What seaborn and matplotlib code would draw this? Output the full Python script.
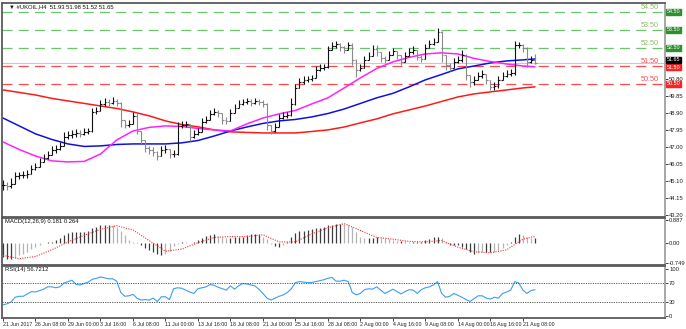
import matplotlib
matplotlib.use("Agg")
import matplotlib.pyplot as plt
import numpy as np
import pandas as pd
import seaborn as sns

# ---- price bars (H4, every 2nd bar) ----
bar_close = [44.89, 44.84, 44.95, 45.39, 45.45, 45.45, 45.50, 45.78, 45.89, 46.17,
             46.39, 46.56, 46.84, 46.89, 47.06, 47.56, 47.67, 47.73, 47.78, 47.73,
             47.84, 47.89, 48.95, 49.00, 49.39, 49.50, 49.45, 49.56, 49.45, 48.50,
             48.23, 48.28, 48.73, 47.89, 47.39, 46.95, 46.84, 46.73, 46.50, 46.84,
             46.89, 46.61, 46.61, 48.17, 48.23, 48.28, 47.56, 47.73, 47.84, 48.39,
             48.50, 48.84, 48.95, 48.89, 48.50, 48.45, 48.89, 49.17, 49.39, 49.50,
             49.56, 49.45, 49.56, 49.50, 49.39, 48.23, 47.89, 48.12, 48.61, 48.73,
             48.78, 49.39, 50.28, 50.62, 50.73, 50.78, 50.84, 51.28, 51.39, 51.45,
             52.39, 52.61, 52.73, 52.56, 52.39, 52.67, 51.84, 51.28, 51.39, 51.84,
             52.06, 52.45, 52.28, 51.95, 51.84, 52.11, 52.34, 52.11, 51.73, 52.06,
             52.28, 52.39, 52.00, 51.89, 52.50, 52.73, 52.84, 53.39, 52.11, 51.56,
             51.39, 51.73, 51.84, 52.11, 51.00, 50.62, 50.73, 50.95, 51.06, 50.73,
             50.34, 50.39, 50.73, 50.95, 51.06, 51.12, 52.67, 52.67, 52.50, 51.73,
             51.84, 51.65]
bar_high = [45.17, 45.06, 45.28, 45.61, 45.61, 45.67, 45.73, 46.00, 46.12, 46.39,
            46.61, 46.78, 47.06, 47.12, 47.28, 47.84, 47.89, 47.95, 48.00, 47.95,
            48.06, 48.06, 49.17, 49.23, 49.61, 49.73, 49.67, 49.78, 49.67, 49.50,
            48.45, 48.50, 48.95, 48.89, 47.67, 47.23, 47.06, 47.00, 46.78, 47.06,
            47.12, 46.84, 46.84, 48.39, 48.45, 48.45, 47.84, 47.95, 48.06, 48.61,
            48.73, 49.06, 49.17, 49.06, 48.73, 48.67, 49.12, 49.39, 49.61, 49.67,
            49.73, 49.67, 49.73, 49.67, 49.61, 49.45, 48.23, 48.34, 48.84, 48.95,
            48.95, 49.73, 50.50, 50.84, 50.95, 50.95, 51.00, 51.50, 51.61, 51.61,
            52.61, 52.84, 52.89, 52.78, 52.61, 52.84, 52.78, 51.89, 51.61, 52.06,
            52.28, 52.67, 52.67, 52.17, 52.06, 52.34, 52.50, 52.34, 51.95, 52.28,
            52.50, 52.61, 52.23, 52.11, 52.73, 52.95, 53.06, 53.61, 53.45, 51.84,
            51.67, 51.95, 52.06, 52.39, 52.17, 50.89, 50.95, 51.17, 51.28, 51.00,
            50.56, 50.62, 50.95, 51.17, 51.28, 51.34, 52.89, 52.84, 52.73, 52.56,
            52.06, 52.17]
bar_low = [44.62, 44.62, 44.73, 45.17, 45.23, 45.28, 45.28, 45.61, 45.73, 45.95,
           46.17, 46.34, 46.61, 46.67, 46.84, 47.39, 47.45, 47.50, 47.56, 47.56,
           47.67, 47.73, 47.84, 48.84, 49.17, 49.28, 49.28, 49.39, 49.28, 48.12,
           48.06, 48.12, 48.50, 47.73, 47.17, 46.73, 46.61, 46.50, 46.28, 46.61,
           46.67, 46.39, 46.45, 46.56, 48.06, 48.12, 47.34, 47.50, 47.67, 48.17,
           48.34, 48.67, 48.78, 48.67, 48.28, 48.28, 48.67, 48.95, 49.23, 49.34,
           49.39, 49.28, 49.39, 49.34, 49.23, 47.95, 47.73, 47.84, 48.39, 48.56,
           48.61, 48.73, 49.34, 50.39, 50.50, 50.62, 50.67, 51.00, 51.23, 51.28,
           51.39, 52.39, 52.50, 52.34, 52.23, 52.45, 51.56, 50.89, 51.23, 51.61,
           51.84, 52.23, 52.06, 51.73, 51.67, 51.89, 52.11, 51.89, 51.56, 51.84,
           52.06, 52.17, 51.84, 51.73, 52.28, 52.56, 52.67, 52.95, 51.73, 51.28,
           51.23, 51.50, 51.67, 51.73, 50.73, 50.34, 50.45, 50.73, 50.84, 50.50,
           50.17, 50.17, 50.28, 50.73, 50.89, 50.95, 51.00, 52.50, 52.28, 51.45,
           51.67, 51.61]

# ---- moving averages, read every 4 bars ----
ma_idx = [0, 4, 8, 12, 16, 20, 24, 28, 32, 36, 40, 44, 48, 52, 56, 60, 64,
          68, 72, 76, 80, 84, 88, 92, 96, 100, 104, 108, 112, 116, 120, 124, 128, 131]
ma_red = [50.17, 50.03, 49.89, 49.70, 49.56, 49.42, 49.28, 49.14, 48.95, 48.73,
          48.45, 48.25, 48.12, 47.95, 47.84, 47.81, 47.78, 47.78, 47.78, 47.86,
          47.95, 48.11, 48.34, 48.56, 48.84, 49.06, 49.28, 49.53, 49.78, 49.95,
          50.06, 50.17, 50.28, 50.34]
ma_blue = [48.61, 48.17, 47.73, 47.42, 47.17, 47.03, 47.06, 47.14, 47.17, 47.17,
           47.17, 47.23, 47.36, 47.61, 47.89, 48.11, 48.31, 48.45, 48.53, 48.67,
           48.86, 49.11, 49.42, 49.73, 49.98, 50.34, 50.73, 51.03, 51.34, 51.50,
           51.67, 51.78, 51.84, 51.89]
ma_magenta = [47.28, 46.86, 46.50, 46.23, 46.17, 46.20, 46.61, 47.39, 47.89, 48.09,
              48.17, 48.14, 48.03, 47.95, 47.89, 48.28, 48.61, 48.84, 49.03, 49.39,
              49.73, 50.28, 50.84, 51.36, 51.73, 51.98, 52.17, 52.23, 52.17, 51.92,
              51.75, 51.61, 51.50, 51.45]

# ---- MACD(12,26,9) ----
macd_hist = [-0.50, -0.60, -0.60, -0.55, -0.46, -0.40, -0.32, -0.23, -0.13, -0.05,
             0.01, 0.05, 0.06, 0.12, 0.18, 0.32, 0.38, 0.41, 0.41, 0.43,
             0.43, 0.47, 0.56, 0.62, 0.70, 0.70, 0.70, 0.68, 0.61, 0.47,
             0.30, 0.12, 0.06, 0.03, -0.05, -0.17, -0.25, -0.32, -0.40, -0.43,
             -0.40, -0.29, -0.11, -0.03, 0.04, 0.03, 0.01, 0.06, 0.12, 0.18,
             0.27, 0.32, 0.33, 0.27, 0.22, 0.21, 0.21, 0.22, 0.24, 0.25,
             0.32, 0.35, 0.35, 0.35, 0.25, 0.15, -0.02, -0.11, -0.13, -0.05,
             0.06, 0.24, 0.38, 0.45, 0.47, 0.49, 0.53, 0.56, 0.58, 0.62,
             0.67, 0.70, 0.72, 0.73, 0.72, 0.68, 0.61, 0.41, 0.24, 0.18,
             0.18, 0.21, 0.22, 0.21, 0.18, 0.15, 0.12, 0.10, 0.10, 0.08,
             0.06, 0.06, 0.06, 0.06, 0.12, 0.15, 0.22, 0.24, 0.18, 0.03,
             -0.05, -0.07, -0.08, -0.13, -0.23, -0.32, -0.40, -0.36, -0.34, -0.34,
             -0.34, -0.32, -0.26, -0.17, -0.05, 0.06, 0.24, 0.33, 0.32, 0.24,
             0.18, 0.18]
sig_idx = [0, 4, 8, 12, 16, 20, 24, 28, 32, 36, 40, 44, 48, 52, 56, 60, 64, 68,
           72, 76, 80, 84, 88, 92, 96, 100, 104, 108, 112, 116, 120, 124, 128, 131]
macd_signal = [-0.46, -0.58, -0.50, -0.25, 0.05, 0.30, 0.52, 0.66, 0.50, 0.10,
               -0.30, -0.22, 0.02, 0.22, 0.25, 0.25, 0.32, 0.05, 0.05, 0.35,
               0.58, 0.74, 0.48, 0.22, 0.15, 0.07, 0.05, 0.10, -0.15, -0.32,
               -0.36, -0.25, 0.15, 0.26]

# ---- RSI(14) ----
rsi_vals = [24, 26, 30, 40, 42, 42, 47, 52, 51, 54, 57, 62, 62, 60, 62, 70, 73, 76, 67, 66,
            69, 72, 78, 80, 83, 81, 79, 79, 74, 50, 42, 43, 46, 38, 34, 35, 34, 38, 31, 41,
            41, 35, 58, 60, 59, 55, 51, 48, 58, 60, 62, 67, 65, 61, 58, 55, 64, 57, 64, 69,
            68, 66, 64, 57, 48, 38, 34, 38, 42, 45, 50, 58, 71, 73, 72, 71, 71, 73, 75, 77,
            80, 82, 74, 74, 76, 73, 50, 45, 48, 56, 58, 57, 62, 55, 48, 52, 57, 52, 47, 52,
            56, 55, 48, 56, 60, 62, 66, 73, 48, 40, 42, 48, 44, 40, 35, 31, 37, 43, 43, 38,
            36, 40, 38, 48, 51, 55, 73, 70, 55, 48, 54, 56]

green_levels = [54.50, 53.50, 52.50]
red_levels = [51.50, 50.50]
last_price = 51.65
price_ticks = [43.20, 44.15, 45.10, 46.05, 47.00, 47.95, 48.90, 49.85, 50.80]
tick_idx = [0, 8, 16, 24, 32, 40, 48, 56, 64, 72, 80, 88, 96, 104, 112, 120, 128]
tick_labels = ["21 Jun 2017", "26 Jun 08:00", "29 Jun 00:00", "3 Jul 16:00", "6 Jul 08:00",
               "11 Jul 00:00", "13 Jul 16:00", "18 Jul 08:00", "21 Jul 00:00", "25 Jul 16:00",
               "28 Jul 08:00", "2 Aug 00:00", "4 Aug 16:00", "9 Aug 08:00", "14 Aug 00:00",
               "16 Aug 16:00", "21 Aug 08:00"]

sns.set_theme(style="white")
plt.rcParams["font.family"] = ["Liberation Sans", "DejaVu Sans"]
FS = 4.2

fig = plt.figure(figsize=(6.86, 3.29), dpi=100)
ax = fig.add_axes([0.0029, 0.3404, 0.9665, 0.6505])
ax_m = fig.add_axes([0.0029, 0.1945, 0.9665, 0.1429])
ax_r = fig.add_axes([0.0029, 0.0334, 0.9665, 0.158])

n = len(bar_close)
idx = np.arange(n)
close = np.array(bar_close)
opens = np.array([bar_close[0]] + bar_close[:-1])
hi = np.maximum.reduce([np.array(bar_high), opens, close])
lo = np.minimum.reduce([np.array(bar_low), opens, close])
cols = np.where(close >= opens, "#111111", "#8a8a8a")

# level lines
for lv in green_levels:
    ax.axhline(lv, color="#6cc46c", lw=0.9, ls=(0, (8, 5)), zorder=1)
    ax.text(157.0, lv + 0.08, f"{lv:.2f}", color="#8fb86a", fontsize=5.2, va="bottom")
for lv in red_levels:
    ax.axhline(lv, color="#ff4a4a", lw=0.9, ls=(0, (8, 5)), zorder=1)
    ax.text(157.0, lv + 0.08, f"{lv:.2f}", color="#ff4a4a", fontsize=5.2, va="bottom")
ax.axhline(last_price, color="#c8c8c8", lw=0.8, zorder=1)

# MAs
sns.lineplot(x=ma_idx, y=ma_red, ax=ax, color="#ff1a1a", lw=1.1, zorder=2)
sns.lineplot(x=ma_idx, y=ma_blue, ax=ax, color="#1010e0", lw=1.1, zorder=2)
sns.lineplot(x=ma_idx, y=ma_magenta, ax=ax, color="#ff22ff", lw=1.1, zorder=2)

# OHLC bars
ax.vlines(idx, lo, hi, colors=cols, lw=0.8, zorder=3)
ax.hlines(opens, idx - 0.45, idx, colors=cols, lw=0.8, zorder=3)
ax.hlines(close, idx, idx + 0.45, colors=cols, lw=0.8, zorder=3)

ax.set_ylim(43.11, 55.0)
ax.text(0.01, 0.995, "\u25bc #UKOIL,H4  51.93 51.98 51.52 51.65", transform=ax.transAxes,
        fontsize=FS, va="top", ha="left", color="#111111")

# right axis value boxes
BFS = 3.9
for lv in green_levels:
    ax.text(1.003, lv, f"{lv:.2f}", transform=ax.get_yaxis_transform(), fontsize=BFS,
            color="white", va="center", ha="left", zorder=10, clip_on=False,
            bbox=dict(boxstyle="square,pad=0.1", fc="#2f8f2f", ec="#2f8f2f"))
ax.text(1.003, red_levels[1], f"{red_levels[1]:.2f}", transform=ax.get_yaxis_transform(),
        fontsize=BFS, color="white", va="center", ha="left", zorder=10, clip_on=False,
        bbox=dict(boxstyle="square,pad=0.1", fc="#ff2020", ec="#ff2020"))
ax.text(1.003, red_levels[0] - 0.06, f"{red_levels[0]:.2f}", transform=ax.get_yaxis_transform(),
        fontsize=BFS, color="white", va="center", ha="left", zorder=10, clip_on=False,
        bbox=dict(boxstyle="square,pad=0.1", fc="#ff2020", ec="#ff2020"))
ax.text(1.003, last_price + 0.2, f"{last_price:.2f}", transform=ax.get_yaxis_transform(),
        fontsize=BFS, color="white", va="center", ha="left", zorder=11, clip_on=False,
        bbox=dict(boxstyle="square,pad=0.1", fc="#000000", ec="#000000"))

# MACD panel
macd = np.array(macd_hist)
grow = np.abs(macd) >= np.abs(np.r_[macd[0], macd[:-1]])
mcols = np.where(grow, "#3c3c3c", "#b4b4b4")
ax_m.vlines(idx, 0, macd, colors=mcols, lw=0.9)
sns.lineplot(x=sig_idx, y=macd_signal, ax=ax_m, color="#ff3030", lw=0.8, ls=(0, (1, 1.2)))
ax_m.set_ylim(-0.82, 0.95)
ax_m.set_yticks([-0.749, 0.0, 0.887])
ax_m.set_yticklabels(["-0.749", "0.00", "0.887"])
ax_m.text(0.005, 0.97, "MACD(12,26,9) 0.181 0.264", transform=ax_m.transAxes,
          fontsize=FS, va="top", ha="left", color="#111111")

# RSI panel
sns.lineplot(x=idx, y=rsi_vals, ax=ax_r, color="#3d9cf5", lw=0.8)
for lv in [70, 30]:
    ax_r.axhline(lv, color="#555555", lw=0.7, ls=(0, (1.2, 1.2)))
ax_r.set_ylim(-4, 106)
ax_r.set_yticks([0, 30, 70, 100])
ax_r.set_yticklabels(["0", "30", "70", "100"])
ax_r.text(0.005, 0.98, "RSI(14) 56.7212", transform=ax_r.transAxes,
          fontsize=FS, va="top", ha="left", color="#111111")

for a in (ax, ax_m, ax_r):
    a.set_xlim(-0.25, 163)
    a.set_xlabel("")
    a.set_ylabel("")
    a.yaxis.tick_right()
    a.tick_params(axis="y", which="both", right=True, length=2, width=0.6, pad=1,
                  labelsize=FS, colors="#222222")
    for s in ("top", "bottom", "left"):
        a.spines[s].set_color("#5a5a5a")
        a.spines[s].set_linewidth(1.3)
    a.spines["right"].set_color("#a0a0a0")
    a.spines["right"].set_linewidth(1.3)
    a.set_facecolor("white")

ax.set_yticks(price_ticks)
ax.set_yticklabels([f"{t:.2f}" for t in price_ticks])
ax.set_xticks([])
ax_m.set_xticks([])
ax_r.set_xticks(tick_idx)
ax_r.set_xticklabels(tick_labels)
ax_r.tick_params(axis="x", bottom=True, length=2, width=0.6, pad=1, labelsize=3.8,
                 colors="#222222")
for lab in ax_r.get_xticklabels():
    lab.set_ha("left")

fig.savefig("out.png", dpi=100, facecolor="white")
